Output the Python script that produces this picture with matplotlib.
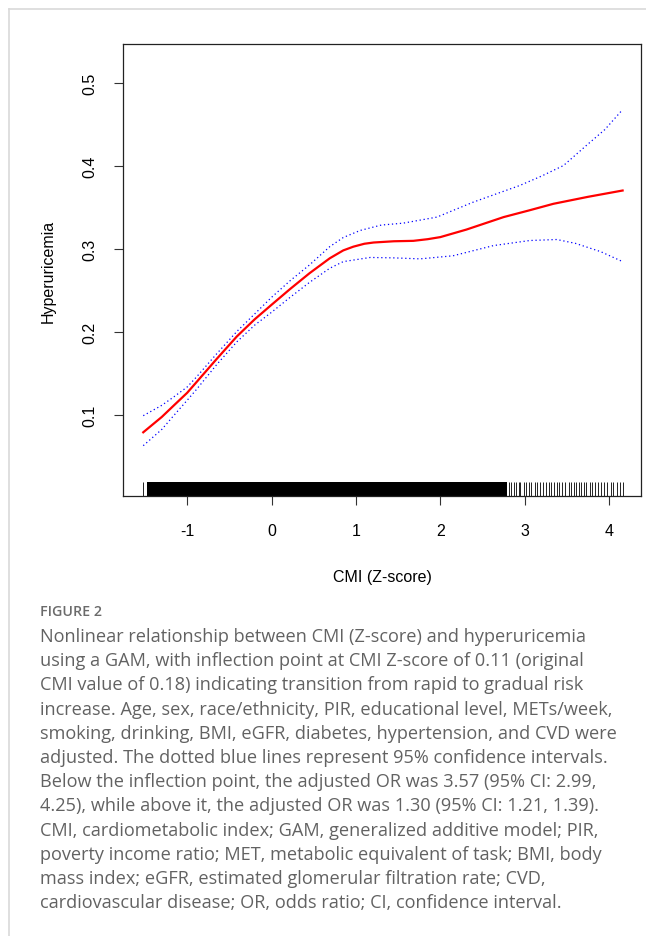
import matplotlib
matplotlib.use("Agg")
import matplotlib.pyplot as plt
from matplotlib.lines import Line2D

# ---------------- data ----------------
fit_x = [-1.52, -1.30, -1.16, -1.00, -0.89, -0.65, -0.41, -0.20, 0.00, 0.22, 0.45,
         0.69, 0.85, 0.97, 1.10, 1.21, 1.45, 1.68, 1.85, 2.00, 2.31, 2.75, 3.05,
         3.34, 3.75, 4.16]
fit_y = [0.0795, 0.0980, 0.1116, 0.1270, 0.1398, 0.1678, 0.1950, 0.2155, 0.2330,
         0.2520, 0.2710, 0.2890, 0.2985, 0.3030, 0.3065, 0.3080, 0.3095, 0.3100,
         0.3120, 0.3145, 0.3236, 0.3386, 0.3466, 0.3546, 0.3630, 0.3706]

upper_x = [-1.52, -1.30, -1.16, -1.00, -0.89, -0.65, -0.41, -0.20, 0.00, 0.22, 0.45,
           0.69, 0.85, 1.05, 1.30, 1.56, 1.96, 2.39, 2.94, 3.20, 3.46, 3.73, 3.95,
           4.16]
upper_y = [0.0995, 0.1120, 0.1220, 0.1340, 0.1460, 0.1740, 0.2010, 0.2220, 0.2420,
           0.2620, 0.2810, 0.3030, 0.3140, 0.3225, 0.3290, 0.3313, 0.3386, 0.3566,
           0.3766, 0.3880, 0.4007, 0.4248, 0.4440, 0.4680]

lower_x = [-1.52, -1.30, -1.16, -1.00, -0.89, -0.65, -0.41, -0.20, 0.00, 0.22, 0.45,
           0.69, 0.85, 1.17, 1.45, 1.76, 2.15, 2.63, 3.06, 3.38, 3.60, 3.90, 4.16]
lower_y = [0.0634, 0.0830, 0.0995, 0.1180, 0.1310, 0.1610, 0.1885, 0.2085, 0.2240,
           0.2420, 0.2600, 0.2770, 0.2850, 0.2900, 0.2895, 0.2883, 0.2920, 0.3043,
           0.3104, 0.3116, 0.3070, 0.2970, 0.2850]

# rug: dense (solid) span plus individual sparse observations
rug_dense_span = [-1.47, 2.79]
rug_sparse = [-1.52, -1.48, 2.81, 2.84, 2.87, 2.90, 2.93, 2.95, 2.99, 3.02, 3.05,
              3.08, 3.12, 3.15, 3.18, 3.22, 3.25, 3.29, 3.31, 3.35, 3.38, 3.41,
              3.44, 3.48, 3.52, 3.55, 3.58, 3.61, 3.64, 3.67, 3.70, 3.73, 3.77,
              3.80, 3.83, 3.87, 3.90, 3.94, 3.98, 4.02, 4.05, 4.09, 4.13, 4.16]

x_ticks = [-1, 0, 1, 2, 3, 4]
y_ticks = [0.1, 0.2, 0.3, 0.4, 0.5]
x_label = "CMI (Z-score)"
y_label = "Hyperuricemia"

caption_title = "FIGURE 2"
caption_lines = [
    "Nonlinear relationship between CMI (Z-score) and hyperuricemia",
    "using a GAM, with inflection point at CMI Z-score of 0.11 (original",
    "CMI value of 0.18) indicating transition from rapid to gradual risk",
    "increase. Age, sex, race/ethnicity, PIR, educational level, METs/week,",
    "smoking, drinking, BMI, eGFR, diabetes, hypertension, and CVD were",
    "adjusted. The dotted blue lines represent 95% confidence intervals.",
    "Below the inflection point, the adjusted OR was 3.57 (95% CI: 2.99,",
    "4.25), while above it, the adjusted OR was 1.30 (95% CI: 1.21, 1.39).",
    "CMI, cardiometabolic index; GAM, generalized additive model; PIR,",
    "poverty income ratio; MET, metabolic equivalent of task; BMI, body",
    "mass index; eGFR, estimated glomerular filtration rate; CVD,",
    "cardiovascular disease; OR, odds ratio; CI, confidence interval.",
]

# ---------------- figure ----------------
W, H = 646, 937
fig = plt.figure(figsize=(W / 100, H / 100), dpi=100)
fig.patch.set_facecolor("white")

# page frame lines (top and left, light gray)
fig.add_artist(Line2D([9 / W, 1], [1 - 10 / H, 1 - 10 / H], transform=fig.transFigure,
                      color="#d9d9d9", lw=1.2))
fig.add_artist(Line2D([9 / W, 9 / W], [0, 1 - 10 / H], transform=fig.transFigure,
                      color="#d9d9d9", lw=1.2))

left, right, top, bottom = 123, 641, 45, 497
ax = fig.add_axes([left / W, 1 - bottom / H, (right - left) / W, (bottom - top) / H])

ax.plot(fit_x, fit_y, color="red", lw=1.6, solid_joinstyle="round")
ax.plot(upper_x, upper_y, color="blue", lw=0.9, linestyle=(0, (1, 2.2)))
ax.plot(lower_x, lower_y, color="blue", lw=0.9, linestyle=(0, (1, 2.2)))

trans = ax.get_xaxis_transform()
ax.broken_barh([(rug_dense_span[0], rug_dense_span[1] - rug_dense_span[0])], (0, 0.03),
               transform=trans, facecolor="black", edgecolor="none")
ax.vlines(rug_sparse, 0, 0.03, transform=trans, color="black", lw=0.6)

ax.set_xlim(-1.76, 4.378)
ax.set_ylim(0.0028, 0.547)

tickfont = dict(family="Liberation Sans", size=11.5)
ax.set_xticks(x_ticks)
ax.set_xticklabels([str(t) for t in x_ticks], **tickfont)
ax.set_yticks(y_ticks)
ax.set_yticklabels([f"{t:.1f}" for t in y_ticks], rotation=90, va="center", **tickfont)
ax.tick_params(axis="both", direction="out", length=6.5, width=0.8, color="#333333")
ax.tick_params(axis="x", pad=13)
ax.tick_params(axis="y", pad=12)
for s in ax.spines.values():
    s.set_linewidth(0.9)
    s.set_color("#222222")

ax.set_xlabel(x_label, family="Liberation Sans", fontsize=11.5, labelpad=22)
ax.set_ylabel(y_label, family="Liberation Sans", fontsize=11.5, labelpad=19)

# caption
fig.text(40 / W, 1 - 612 / H, caption_title, family="Open Sans", weight="semibold",
         fontsize=10.3, color="#6b6b6b", va="center", ha="left")
for i, line in enumerate(caption_lines):
    fig.text(40 / W, 1 - (637 + 24.2 * i) / H, line, family="Open Sans",
             fontsize=13.1, color="#626262", va="center", ha="left")

fig.savefig("out.png", dpi=100, facecolor="white")
